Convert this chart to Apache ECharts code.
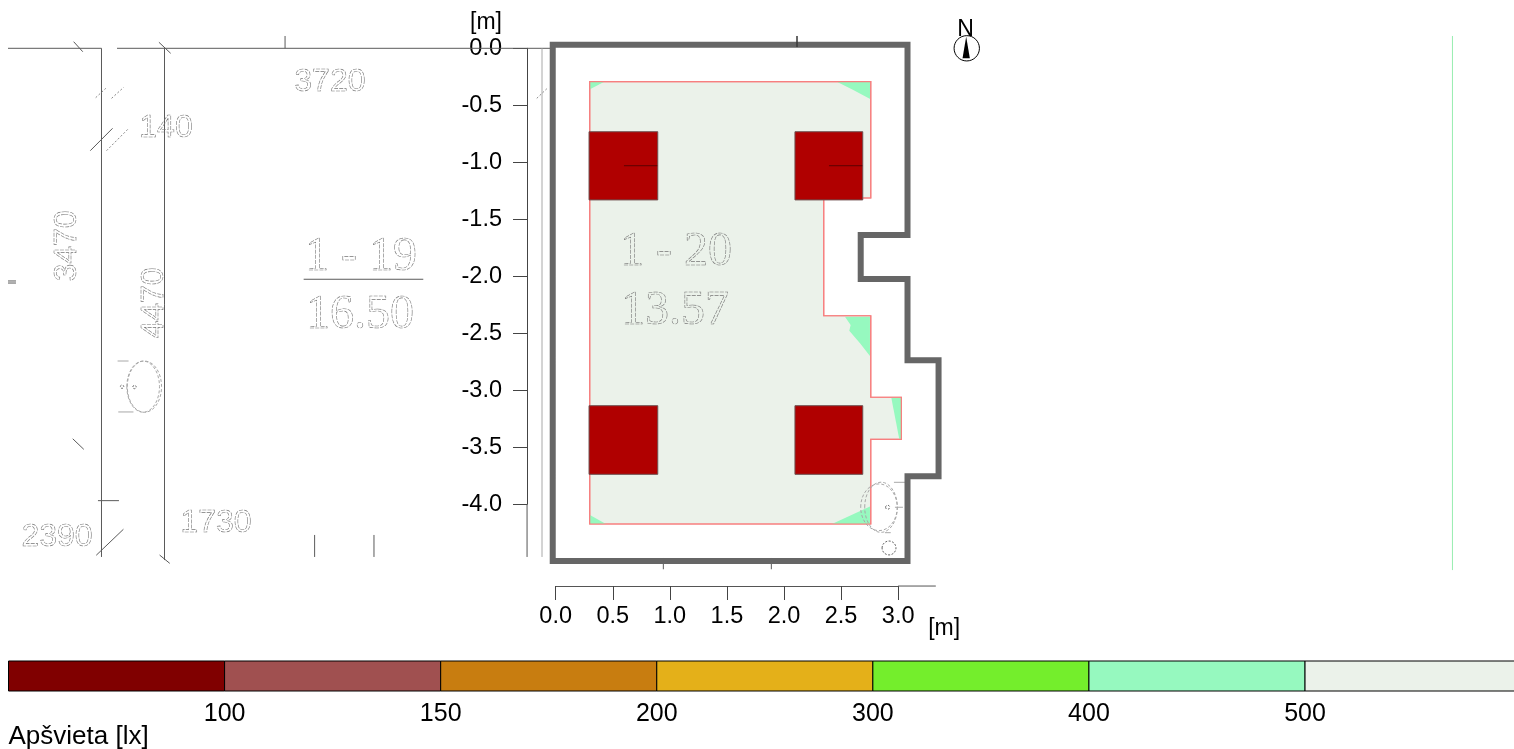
<!DOCTYPE html>
<html><head><meta charset="utf-8">
<style>html,body{margin:0;padding:0;background:#fff}#c{width:1514px;height:749px}</style>
<script src="https://cdn.jsdelivr.net/npm/echarts@6/dist/echarts.min.js"></script>
</head><body><div id="c"></div>
<script>
// All plan geometry is in metres.
const X_TICK_RANGE = [0, 3];
const Y_TICK_RANGE = [-4, 0];
const AXIS_EXTENSIONS = [[3, -4.717, 3.33, -4.717], [-0.251, -4, -0.251, -4.462]];
const ROOM_AREA = [[0.298,-0.293],[2.76,-0.293],[2.76,-1.313],[2.348,-1.313],[2.348,-2.346],[2.76,-2.346],[2.76,-3.061],[3.028,-3.061],[3.028,-3.43],[2.76,-3.43],[2.76,-4.173],[0.298,-4.173]];
const BAND_400_500 = [
  [[0.30,-0.295],[0.422,-0.295],[0.30,-0.36]],
  [[2.467,-0.295],[2.755,-0.295],[2.755,-0.445],[2.607,-0.366]],
  [[2.534,-2.354],[2.753,-2.354],[2.753,-2.70],[2.666,-2.588],[2.572,-2.477],[2.584,-2.427]],
  [[2.94,-3.065],[3.025,-3.065],[3.025,-3.43],[3.01,-3.43]],
  [[0.30,-4.094],[0.44,-4.173],[0.30,-4.173]],
  [[2.42,-4.173],[2.753,-4.02],[2.753,-4.173]]
];
const LUMINAIRES = [[0.292,-0.732,0.894,-1.33],[2.096,-0.732,2.69,-1.33],[0.292,-3.135,0.894,-3.737],[2.096,-3.135,2.69,-3.737]];
const LUMINAIRE_MARKS = [[0.598,-1.03,0.89,-1.03],[2.394,-1.03,2.686,-1.03]];
const WALL = [[-0.026,0.032],[3.082,0.032],[3.082,-1.638],[2.672,-1.638],[2.672,-2.024],[3.082,-2.024],[3.082,-2.737],[3.354,-2.737],[3.354,-3.754],[3.082,-3.754],[3.082,-4.497],[-0.026,-4.497]];
const PLAN_LINES = [
  [-4.798,0,-3.979,0],[-3.979,0,-3.979,-4.462],[-3.843,0,-0.05,0],[-3.427,0,-3.427,-4.489],
  [-2.371,0.108,-2.371,0],[2.114,0.108,2.114,0.011],[0.943,-4.471,0.943,-4.57],[1.889,-4.471,1.889,-4.57],
  [-2.112,-4.269,-2.112,-4.462],[-1.592,-4.269,-1.592,-4.462],[-4.010,-3.968,-3.826,-3.968],
  [-4.798,-2.041,-4.728,-2.041],[-4.798,-2.059,-4.728,-2.059],
  [-4.223,0.058,-4.143,-0.03],[-3.476,0.053,-3.373,-0.044],[-4.077,-0.898,-3.882,-0.702],
  [-4.231,-3.425,-4.134,-3.518],[-4.025,-4.447,-3.787,-4.219],[-3.47,-4.445,-3.381,-4.518],
  [-2.208,-2.026,-1.16,-2.026],[0.552,-1.977,1.603,-1.977]
];
const PLAN_LIGHT_LINES = [
  [-0.12,0,-0.12,-4.462],[-0.05,0.005,-0.01,0.005],
  [-3.838,-2.743,-3.742,-2.743],[-3.832,-3.19,-3.699,-3.19],
  [2.963,-3.807,3.06,-3.807],[2.885,-4.249,2.935,-4.249],[2.972,-4.026,3.042,-4.026]
];
const PLAN_DASHED_LINES = [
  [-4.03,-0.433,-3.941,-0.351],[-3.891,-0.439,-3.784,-0.342],[-3.935,-0.898,-3.749,-0.711],[-0.166,-0.439,-0.074,-0.351]
];
const FIXTURE_ELLIPSES = [[-3.614,-2.968,0.143,0.224],[-3.603,-2.968,0.15,0.225],[2.85,-4.026,0.143,0.22],[2.832,-4.026,0.16,0.205]];
const FIXTURE_CIRCLES = [[-3.799,-2.968,0.015,0.015],[-3.69,-2.971,0.015,0.015],[2.908,-4.026,0.018,0.018],[2.92,-4.383,0.061,0.061]];
const DIMENSION_LABELS = ['3720','140','3470','4470','2390','1730'];
const DIMENSION_AT = [[-1.978,-0.296,0],[-3.414,-0.70,0],[-4.283,-1.734,1],[-3.52,-2.234,1],[-4.369,-4.287,0],[-2.976,-4.165,0]];
const ROOM_LABELS = ['1 - 19','16.50','1 - 20','13.57'];
const ROOM_LABEL_AT = [[-1.706,-1.831],[-1.714,-2.34],[1.054,-1.793],[1.045,-2.311]];
const EDGE_MARK = [7.856,0.108,7.856,-4.577];
const NORTH_CIRCLE = [3.601,0,0.111,0.111];
const NORTH_NEEDLE = [[3.596,0.102],[3.564,-0.088],[3.628,-0.088]];
const NORTH_LABEL = ['N',3.59,0.165];
const CLASS_TICKS = ['', '100', '150', '200', '300', '400', '500'];
const CLASS_EDGES = [[0,1],[1,2],[2,3],[3,4],[4,5],[5,6],[6,7]];
const CLASS_COLORS = ['#800000','#a05050','#c87d10','#e4b019','#74ee2c','#96f9bf','#ebf2ea'];
const CLASS_TITLE = 'Apšvieta [lx]';

const SANS = '"Liberation Sans", Arial, sans-serif';
const SERIF = '"Liberation Serif", "Times New Roman", serif';

function poly(api, pts) { return pts.map(p => api.coord(p)); }

function segSeries(name, list, stroke, width, dash, z) {
  return { type:'custom', name, xAxisIndex:0, yAxisIndex:0, z, silent:true,
    data:list,
    encode:{x:[0,2],y:[1,3]},
    renderItem(params, api){
      const a = api.coord([api.value(0),api.value(1)]), b = api.coord([api.value(2),api.value(3)]);
      return {type:'line', shape:{x1:a[0],y1:a[1],x2:b[0],y2:b[1]},
        style:{stroke, lineWidth:width, lineDash:dash||null, fill:null}};
    }};
}
function polySeries(name, list, fill, stroke, width, z) {
  return { type:'custom', name, xAxisIndex:0, yAxisIndex:0, z, silent:true,
    data:list.map((p,i)=>[p[0][0],p[0][1],i]),
    renderItem(params, api){
      return {type:'polygon', shape:{points:poly(api,list[params.dataIndex])},
        style:{fill, stroke:stroke||null, lineWidth:width||0, lineJoin:'miter', miterLimit:10}};
    }};
}
function ellipseSeries(name, list, stroke, dash, fill, z) {
  return { type:'custom', name, xAxisIndex:0, yAxisIndex:0, z, silent:true,
    data:list,
    renderItem(params, api){
      const c = api.coord([api.value(0),api.value(1)]);
      const s = api.size([api.value(2),api.value(3)]);
      return {type:'ellipse', shape:{cx:c[0],cy:c[1],rx:s[0],ry:s[1]},
        style:{stroke, lineWidth:1, lineDash:dash||null, fill:fill||null}};
    }};
}
function textSeries(name, texts, at, font, z) {
  return { type:'custom', name, xAxisIndex:0, yAxisIndex:0, z, silent:true,
    data:at.map(p=>[p[0],p[1]]),
    renderItem(params, api){
      const c = api.coord([api.value(0),api.value(1)]);
      const rot = at[params.dataIndex][2] ? Math.PI/2 : 0;
      return {type:'text', x:c[0], y:c[1], rotation:rot,
        style:{text:texts[params.dataIndex], font, fill:'rgba(255,255,255,0)', stroke:'#777', lineWidth:0.6, lineDash:[4,1.2], align:'center', verticalAlign:'middle'}};
    }};
}

const chart = echarts.init(document.getElementById('c'), null, {renderer:'canvas', width:1514, height:749});
chart.setOption({
  animation:false,
  backgroundColor:'#fff',
  grid:[
    {left:555.7, top:48.3, width:342.45, height:456, containLabel:false, outerBoundsMode:'none'},
    {left:8.5, top:661, width:1505.5, height:30, containLabel:false, outerBoundsMode:'none'}
  ],
  xAxis:[
    {type:'value', gridIndex:0, min:X_TICK_RANGE[0], max:X_TICK_RANGE[1], interval:0.5, position:'bottom', offset:81.7,
      name:'[m]', nameLocation:'end', nameGap:30,
      nameTextStyle:{fontFamily:SANS,fontSize:23,color:'#000',align:'left',verticalAlign:'top',padding:[31,0,0,0]},
      axisLine:{show:true,onZero:false,lineStyle:{color:'#555',width:1}},
      axisTick:{show:true,length:14,lineStyle:{color:'#444',width:1}},
      axisLabel:{margin:19,fontFamily:SANS,fontSize:23.5,color:'#000',formatter:v=>v.toFixed(1)},
      splitLine:{show:false}},
    {type:'value', gridIndex:1, min:0, max:6.967, interval:1, position:'bottom',
      name:CLASS_TITLE, nameLocation:'start', nameGap:0,
      nameTextStyle:{fontFamily:SANS,fontSize:26,color:'#000',align:'left',verticalAlign:'top',padding:[33,0,0,0]},
      axisLine:{show:false,onZero:false}, axisTick:{show:false}, splitLine:{show:false},
      axisLabel:{margin:11,fontFamily:SANS,fontSize:25,color:'#000',formatter:v=>CLASS_TICKS[v]||''}}
  ],
  yAxis:[
    {type:'value', gridIndex:0, min:Y_TICK_RANGE[0], max:Y_TICK_RANGE[1], interval:0.5, position:'left', offset:28.7,
      name:'[m]', nameLocation:'end', nameGap:10,
      nameTextStyle:{fontFamily:SANS,fontSize:23,color:'#000',align:'right',padding:[0,25,4,0]},
      axisLine:{show:true,onZero:false,lineStyle:{color:'#444',width:1}},
      axisTick:{show:true,length:14,lineStyle:{color:'#444',width:1}},
      axisLabel:{margin:25,fontFamily:SANS,fontSize:23.5,color:'#000',formatter:v=>v.toFixed(1)},
      splitLine:{show:false}},
    {type:'value', gridIndex:1, min:0, max:1, show:false}
  ],
  series:[
    polySeries('area', [ROOM_AREA], '#ebf2ea', '#f77f7f', 1.2, 2),
    polySeries('400-500 lx', BAND_400_500, '#96f9bf', null, 0, 3),
    polySeries('outline', [ROOM_AREA], 'rgba(0,0,0,0)', '#f77f7f', 1.2, 4),
    { type:'custom', name:'luminaires', xAxisIndex:0, yAxisIndex:0, z:5, silent:true, data:LUMINAIRES,
      encode:{x:[0,2],y:[1,3]},
      renderItem(params, api){
        const a = api.coord([api.value(0),api.value(1)]), b = api.coord([api.value(2),api.value(3)]);
        return {type:'rect', shape:{x:a[0],y:a[1],width:b[0]-a[0],height:b[1]-a[1]},
          style:{fill:'#b00000',stroke:'#6e5050',lineWidth:1}};
      }},
    segSeries('luminaire marks', LUMINAIRE_MARKS, '#5c0000', 1, null, 6),
    segSeries('plan', PLAN_LINES, '#5a5a5a', 1, null, 1),
    segSeries('plan light', PLAN_LIGHT_LINES, '#a8a8a8', 1, null, 1),
    segSeries('plan dashed', PLAN_DASHED_LINES, '#8a8a8a', 1, [2,2], 1),
    segSeries('axis extensions', AXIS_EXTENSIONS, '#555', 1, null, 1),
    segSeries('edge', [EDGE_MARK], '#98eeb0', 1, null, 1),
    { type:'custom', name:'wall', xAxisIndex:0, yAxisIndex:0, z:7, silent:true, data:[[WALL[0][0],WALL[0][1]]],
      renderItem(params, api){
        return {type:'polygon', shape:{points:poly(api,WALL)},
          style:{fill:null,stroke:'#666',lineWidth:6,lineJoin:'miter'}};
      }},
    segSeries('wall tick', [[2.114,0.108,2.114,0.011]], '#222', 1, null, 8),
    ellipseSeries('fixtures', FIXTURE_ELLIPSES, '#a8a8a8', [3,2], null, 8),
    ellipseSeries('fixture points', FIXTURE_CIRCLES, '#666', [2,1.5], null, 8),
    textSeries('dimensions', DIMENSION_LABELS, DIMENSION_AT, '32px '+SANS, 9),
    textSeries('rooms', ROOM_LABELS, ROOM_LABEL_AT, '48px '+SERIF, 9),
    ellipseSeries('north', [NORTH_CIRCLE], '#000', null, '#fff', 9),
    polySeries('north needle', [NORTH_NEEDLE], '#000', null, 0, 10),
    { type:'custom', name:'north label', xAxisIndex:0, yAxisIndex:0, z:11, silent:true, data:[[NORTH_LABEL[1],NORTH_LABEL[2]]],
      renderItem(params, api){
        const c = api.coord([api.value(0),api.value(1)]);
        return {type:'text', x:c[0], y:c[1], style:{text:NORTH_LABEL[0], font:'23px '+SANS, fill:'#000', align:'center', verticalAlign:'middle'}};
      }},
    { type:'custom', name:'classes', xAxisIndex:1, yAxisIndex:1, z:2, silent:true, data:CLASS_EDGES,
      encode:{x:[0,1]},
      renderItem(params, api){
        const a = api.coord([api.value(0),1]), b = api.coord([api.value(1),0]);
        return {type:'rect', shape:{x:a[0],y:a[1],width:b[0]-a[0],height:b[1]-a[1]},
          style:{fill:CLASS_COLORS[params.dataIndex],stroke:'#000',lineWidth:1}};
      }}
  ]
});
</script></body></html>
